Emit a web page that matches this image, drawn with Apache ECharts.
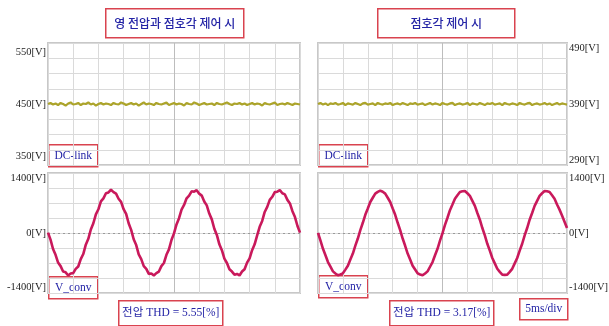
<!DOCTYPE html>
<html>
<head>
<meta charset="utf-8">
<script src="https://cdn.jsdelivr.net/npm/echarts@6/dist/echarts.min.js"></script>
<style>
html,body{margin:0;padding:0;background:#fff;}
#c{width:609px;height:326px;}
</style>
</head>
<body>
<div id="c"></div>
<script>
// time axis (ms), 5 ms/div, 10 divisions
const timeMs = [0,0.5,1,1.5,2,2.5,3,3.5,4,4.5,5,5.5,6,6.5,7,7.5,8,8.5,9,9.5,10,10.5,11,11.5,12,12.5,13,13.5,14,14.5,15,15.5,16,16.5,17,17.5,18,18.5,19,19.5,20,20.5,21,21.5,22,22.5,23,23.5,24,24.5,25,25.5,26,26.5,27,27.5,28,28.5,29,29.5,30,30.5,31,31.5,32,32.5,33,33.5,34,34.5,35,35.5,36,36.5,37,37.5,38,38.5,39,39.5,40,40.5,41,41.5,42,42.5,43,43.5,44,44.5,45,45.5,46,46.5,47,47.5,48,48.5,49,49.5,50];

// Left panel: 영 전압과 점호각 제어 시
const dcLinkLeft = [450,452,449,451,448,452,450,447,451,453,449,450,452,448,451,450,453,449,451,447,450,452,449,451,450,448,452,450,449,453,451,448,450,452,449,451,447,450,453,449,451,450,448,452,450,449,451,453,448,450,452,449,451,450,447,452,450,449,453,451,448,450,452,449,450,451,448,452,450,449,451,453,450,448,451,450,452,449,451,448,450,452,449,451,450,447,452,450,449,451,453,448,450,451,449,452,450,448,451,450,449];
const vConvLeft = [10,-170,-410,-560,-760,-850,-990,-1010,-1090,-1040,-1030,-920,-860,-670,-540,-300,-150,90,250,480,610,810,890,1020,1040,1110,1050,1010,880,800,610,490,250,80,-160,-310,-550,-670,-850,-920,-1050,-1040,-1090,-1030,-990,-850,-770,-560,-420,-180,-10,220,380,600,720,890,960,1070,1060,1100,1010,960,810,710,500,350,110,-50,-290,-440,-660,-770,-930,-990,-1070,-1050,-1090,-990,-930,-760,-650,-440,-290,-60,160,310,540,670,850,930,1050,1060,1100,1020,990,850,760,560,410,180,10];

// Right panel: 점호각 제어 시
const dcLinkRight = [390,392,389,391,388,391,390,392,389,390,392,388,391,390,389,392,390,388,391,392,389,390,391,388,392,390,389,391,390,392,388,390,391,389,392,390,388,391,390,392,389,390,391,388,390,392,389,391,390,388,392,390,389,391,392,388,390,391,389,390,392,388,391,390,389,392,390,388,391,390,392,389,390,391,388,392,390,389,391,390,388,392,390,389,391,392,388,390,391,389,390,392,389,391,388,390,392,389,391,390,389];
const vConvRight = [5,-195,-405,-570,-745,-865,-985,-1040,-1085,-1065,-1035,-940,-840,-680,-528,-325,-142,75,262,468,628,795,905,1012,1055,1088,1058,1010,905,795,628,466,262,75,-142,-328,-527,-680,-840,-938,-1035,-1065,-1086,-1040,-985,-866,-746,-572,-405,-196,-6,208,392,586,732,881,970,1053,1072,1079,1020,953,826,695,514,341,128,-62,-276,-453,-642,-780,-919,-998,-1068,-1074,-1068,-997,-919,-780,-642,-453,-276,-61,128,341,513,695,826,953,1020,1078,1072,1053,970,881,732,600,450,290,130];

const leftDcTicks = [350,450,550];
const rightDcTicks = [290,390,490];
const convTicks = [-1400,0,1400];

const pairs = (ys) => timeMs.map((t, i) => [t, ys[i]]);

const GRID_COLOR = '#dadada';
const LABEL_FONT = 'Liberation Serif';
const grids = [
  {left:48, top:43, width:252, height:122},
  {left:48, top:173, width:252, height:120},
  {left:318, top:43, width:249, height:122},
  {left:318, top:173, width:249, height:120}
].map(g => Object.assign({show:true, backgroundColor:'#fff', borderColor:'#c8c8c8', borderWidth:2, containLabel:false, outerBoundsMode:'none'}, g));

const xAxes = [0,1,2,3].map(i => ({
  gridIndex:i, type:'value', min:0, max:50, interval:5,
  axisLine:{show:false}, axisTick:{show:false}, axisLabel:{show:false},
  splitLine:{show:true, lineStyle:{color:GRID_COLOR, width:1}}
}));

function labelAxis(i, min, max, ticks, pos) {
  return {
    gridIndex:i, type:'value', min:min, max:max, position:pos,
    axisLine:{show:false}, axisTick:{show:false}, splitLine:{show:false},
    axisLabel:{customValues:ticks, formatter:(v) => v + '[V]', fontFamily:LABEL_FONT, fontSize:10.5, color:'#1e1e1e', margin:2}
  };
}
function gridAxis(i, pos) {
  return {
    gridIndex:i, type:'value', min:0, max:8, interval:1, position:pos,
    axisLine:{show:false}, axisTick:{show:false}, axisLabel:{show:false},
    splitLine:{show:true, lineStyle:{color:GRID_COLOR, width:1}}
  };
}
const yAxes = [
  labelAxis(0, 333, 567, leftDcTicks, 'left'),
  labelAxis(1, -1540, 1540, convTicks, 'left'),
  labelAxis(2, 281, 499, rightDcTicks, 'right'),
  labelAxis(3, -1540, 1540, convTicks, 'right'),
  gridAxis(0, 'right'), gridAxis(1, 'right'), gridAxis(2, 'left'), gridAxis(3, 'left')
];

const centerLine = {silent:true, symbol:'none', label:{show:false}, lineStyle:{color:'#bdbdbd', type:'solid', width:1}, data:[{xAxis:25}]};
const zeroLine = {silent:true, symbol:'none', label:{show:false}, lineStyle:{color:'#9a9a9a', type:[2,3], width:1}, data:[{yAxis:0}, {xAxis:25, lineStyle:{color:'#bdbdbd', type:'solid'}}]};

const YELLOW = '#aca42a';
const PINK = '#c9195b';
function trace(i, data, color, width, ml) {
  return {
    type:'line', xAxisIndex:i, yAxisIndex:i, data:pairs(data), symbol:'none', smooth:false,
    lineStyle:{color:color, width:width}, itemStyle:{color:color}, z:5, animation:false,
    markLine:ml
  };
}

function box(x, y, w, h, text, font) {
  return {
    type:'group', left:x, top:y, z:100,
    children:[
      {type:'rect', shape:{x:0, y:0, width:w, height:h}, style:{fill:'#fff', stroke:'#d9434f', lineWidth:1.5}},
      {type:'text', style:{text:text, x:w/2, y:h/2, textAlign:'center', textVerticalAlign:'middle', font:font, fill:'#2424a6'}}
    ]
  };
}
const KFONT = "500 12px 'Noto Sans CJK KR'";
const SFONT = "11.5px 'Liberation Serif', 'Noto Sans CJK KR'";

const option = {
  backgroundColor:'#fff',
  animation:false,
  grid:grids,
  xAxis:xAxes,
  yAxis:yAxes,
  series:[
    trace(0, dcLinkLeft, YELLOW, 2.2, centerLine),
    trace(1, vConvLeft, PINK, 2.6, zeroLine),
    trace(2, dcLinkRight, YELLOW, 2.2, centerLine),
    trace(3, vConvRight, PINK, 2.6, zeroLine)
  ],
  graphic:[
    box(105, 8, 138, 29, '영 전압과 점호각 제어 시', KFONT),
    box(377, 8, 137, 29, '점호각 제어 시', KFONT),
    box(48, 144, 49, 22, 'DC-link', SFONT),
    box(318, 144, 49, 22, 'DC-link', SFONT),
    box(48, 276, 49, 22, 'V_conv', SFONT),
    box(318, 275, 49, 22, 'V_conv', SFONT),
    box(118, 300, 104, 25, '전압 THD = 5.55[%]', SFONT),
    box(389, 300, 104, 25, '전압 THD = 3.17[%]', SFONT),
    box(519, 298, 48, 21, '5ms/div', SFONT)
  ]
};

const chart = echarts.init(document.getElementById('c'), null, {renderer:'canvas'});
chart.setOption(option);
</script>
</body>
</html>
